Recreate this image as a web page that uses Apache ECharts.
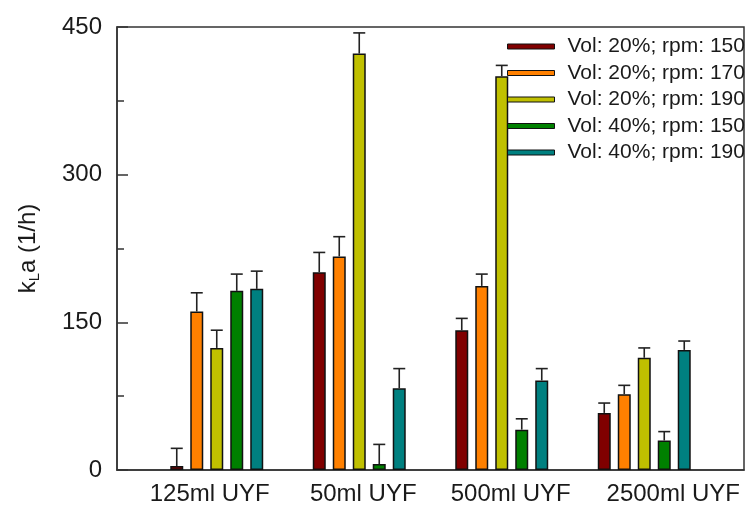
<!DOCTYPE html>
<html>
<head>
<meta charset="utf-8">
<script src="https://cdn.jsdelivr.net/npm/echarts@6/dist/echarts.min.js"></script>
<style>html,body{margin:0;padding:0;background:#fff}#c{width:750px;height:508px}</style>
</head>
<body>
<div id="c"></div>
<script>
// ---- data ----
var categories = ['125ml UYF', '50ml UYF', '500ml UYF', '2500ml UYF'];
var seriesNames = ['Vol: 20%; rpm: 150', 'Vol: 20%; rpm: 170', 'Vol: 20%; rpm: 190', 'Vol: 40%; rpm: 150', 'Vol: 40%; rpm: 190'];
var vol20rpm150 = [4, 201, 142, 58];
var vol20rpm170 = [161, 217, 187, 77];
var vol20rpm190 = [124, 423, 400, 114];
var vol40rpm150 = [182, 6, 41, 30];
var vol40rpm190 = [184, 83, 91, 122];
var err20rpm150 = [18, 20, 12, 10];
var err20rpm170 = [19, 20, 12, 9];
var err20rpm190 = [18, 21, 11, 10];
var err40rpm150 = [17, 20, 11, 9];
var err40rpm190 = [18, 20, 12, 9];
var yTicks = [0, 150, 300, 450];

var values = [vol20rpm150, vol20rpm170, vol20rpm190, vol40rpm150, vol40rpm190];
var errors = [err20rpm150, err20rpm170, err20rpm190, err40rpm150, err40rpm190];
var colors = ['#800000', '#FF8000', '#C0C000', '#008000', '#008080'];

var FONT = '"Liberation Sans", Arial, sans-serif';
var BAR_W = 13, GAP = 7;

var series = [];
values.forEach(function (vals, si) {
  series.push({
    name: seriesNames[si],
    type: 'bar',
    barWidth: BAR_W,
    barGap: (GAP / BAR_W * 100).toFixed(1) + '%',
    itemStyle: { color: colors[si], borderColor: '#111', borderWidth: 1.5 },
    data: vals.map(function (v, i) { return [i + 1, v]; }),
    z: 2
  });
});
values.forEach(function (vals, si) {
  series.push({
    type: 'custom',
    silent: true,
    z: 3,
    encode: { x: 0, y: 1 },
    data: vals.map(function (v, i) { return [i + 1, v, errors[si][i]]; }),
    renderItem: function (params, api) {
      var x = api.value(0), y = api.value(1), e = api.value(2);
      var p0 = api.coord([x, y]);
      var p1 = api.coord([x, y + e]);
      var off = (si - 2) * (BAR_W + GAP);
      var cx = p0[0] + off;
      var st = { stroke: '#222', lineWidth: 1.6 };
      return {
        type: 'group',
        children: [
          { type: 'line', shape: { x1: cx, y1: p0[1], x2: cx, y2: p1[1] }, style: st },
          { type: 'line', shape: { x1: cx - 6, y1: p1[1], x2: cx + 6, y2: p1[1] }, style: st }
        ]
      };
    }
  });
});

var labelRich = {
  c0: { fontSize: 24, fontFamily: FONT, color: '#1a1a1a', padding: [0, 14, 0, 0] },
  c1: { fontSize: 24, fontFamily: FONT, color: '#1a1a1a', padding: [0, 0, 0, 8] },
  c2: { fontSize: 24, fontFamily: FONT, color: '#1a1a1a', padding: [0, 0, 0, 18] },
  c3: { fontSize: 24, fontFamily: FONT, color: '#1a1a1a', padding: [0, 0, 0, 58] }
};

var chart = echarts.init(document.getElementById('c'), null, { renderer: 'canvas' });
chart.setOption({
  animation: false,
  backgroundColor: '#fff',
  grid: { left: 117, right: 6, top: 27, bottom: 38, show: true, borderColor: '#333', borderWidth: 1.5, backgroundColor: 'transparent' },
  legend: {
    orient: 'vertical',
    left: 507,
    top: 36,
    padding: 0,
    icon: 'rect',
    itemWidth: 47,
    itemHeight: 5,
    itemGap: 5.5,
    data: seriesNames,
    itemStyle: { borderColor: '#111', borderWidth: 1 },
    textStyle: { fontSize: 21, fontFamily: FONT, color: '#1a1a1a', lineHeight: 20, padding: [0, 0, 0, 8] },
    selectedMode: false
  },
  xAxis: {
    type: 'value',
    min: 0.3,
    max: 4.7,
    axisLine: { show: true, lineStyle: { color: '#333', width: 1.5 } },
    axisTick: { show: false },
    splitLine: { show: false },
    axisLabel: {
      customValues: [1, 2, 3, 4],
      margin: 12,
      fontSize: 24,
      fontFamily: FONT,
      color: '#1a1a1a',
      formatter: function (v) {
        var i = Math.round(v) - 1;
        return '{c' + i + '|' + categories[i] + '}';
      },
      rich: labelRich
    }
  },
  yAxis: {
    type: 'value',
    min: yTicks[0],
    max: yTicks[yTicks.length - 1],
    interval: yTicks[1] - yTicks[0],
    name: '{m|k}{s|L}{m|a (1/h)}',
    nameLocation: 'middle',
    nameGap: 75,
    nameTextStyle: {
      fontSize: 24, fontFamily: FONT, color: '#1a1a1a',
      rich: {
        m: { fontSize: 24, fontFamily: FONT, color: '#1a1a1a' },
        s: { fontSize: 15, fontFamily: FONT, color: '#1a1a1a', padding: [12, 0, 0, 0] }
      }
    },
    axisLine: { show: true, lineStyle: { color: '#333', width: 1.5 } },
    axisTick: { show: true, inside: true, length: 11, lineStyle: { color: '#333', width: 1.5 } },
    minorTick: { show: true, splitNumber: 2, length: 7, lineStyle: { color: '#333', width: 1.5 } },
    splitLine: { show: false },
    axisLabel: { margin: 15, fontSize: 24, fontFamily: FONT, color: '#1a1a1a' }
  },
  series: series
});
</script>
</body>
</html>
